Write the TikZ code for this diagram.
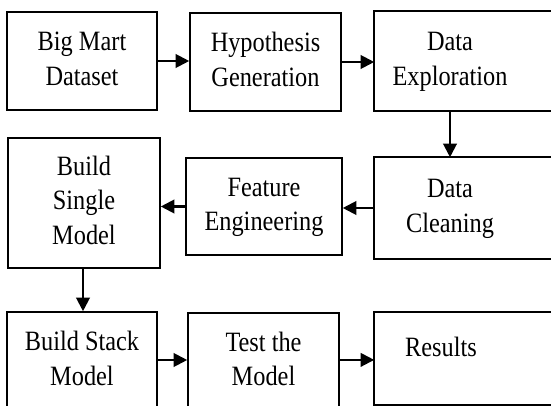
\documentclass[tikz,border=0pt]{standalone}
\usepackage{fontspec}
\setmainfont{Liberation Serif}
\usepackage{graphicx}
\usetikzlibrary{arrows.meta}

% text is drawn a little taller than wide
\newcommand{\tallt}[1]{\scalebox{1}[1.15]{\begin{tabular}{@{}c@{}}#1\end{tabular}}}

\tikzset{
  box/.style={draw, line width=1.1pt, minimum width=3.75cm, minimum height=2.45cm,
    inner sep=0pt, font=\fontsize{17.3}{21.6}\selectfont},
  openbox/.style={box, draw=none},
  frame/.style={line width=1.1pt},
  arr/.style={line width=1.5pt, -{Triangle[length=0.34cm,width=0.34cm]}}
}

\begin{document}
\begin{tikzpicture}[x=0.025cm,y=-0.025cm]

\useasboundingbox (0,0) rectangle (551,406);
\clip (0,0) rectangle (551,406);

% first row
\node[box] (big) at (82,61) {\tallt{Big Mart\\Dataset}};
\node[box, minimum width=3.775cm] (hyp) at (265.5,62) {\tallt{Hypothesis\\Generation}};
\node[openbox] (explore) at (450,61) {\tallt{Data\\Exploration}};
\draw[frame] (explore.south west) rectangle ([xshift=2cm]explore.north east);

% second row
\node[box, minimum width=3.8cm, minimum height=3.25cm] (single) at (84,203) {\tallt{Build\\Single\\Model}};
\node[box, minimum width=3.9cm, minimum height=2.425cm] (feature) at (264,206.5) {\tallt{Feature\\Engineering}};
\node[openbox, minimum height=2.5cm] (clean) at (450,208) {\tallt{Data\\Cleaning}};
\draw[frame] (clean.south west) rectangle ([xshift=2cm]clean.north east);

% third row
\node[box] (stack) at (82,361) {\tallt{Build Stack\\Model}};
\node[box, minimum width=3.775cm, minimum height=2.425cm] (test) at (263.5,361.5) {\tallt{Test the\\Model}};
\node[openbox, minimum height=2.275cm] (res) at (450,358.5) {};
\node[font=\fontsize{17.3}{21.6}\selectfont] (restext) at (441,350) {\tallt{Results}};
\draw[frame] (res.south west) rectangle ([xshift=2cm]res.north east);

% arrows
\draw[arr] (big.east) -- (big.east -| hyp.west);
\draw[arr] (hyp.east) -- (hyp.east -| explore.west);
\draw[arr] (explore.south) -- (explore.south |- clean.north);
\draw[arr] (clean.west) -- (clean.west -| feature.east);
\draw[arr] (feature.west) -- (feature.west -| single.east);
\draw[arr] ([xshift=-0.025cm]single.south) -- ([xshift=-0.025cm]single.south |- stack.north);
\draw[arr] ([yshift=0.025cm]stack.east) -- ([yshift=0.025cm]stack.east -| test.west);
\draw[arr] ([yshift=0.04cm]test.east) -- ([yshift=0.04cm]test.east -| res.west);

\end{tikzpicture}
\end{document}
